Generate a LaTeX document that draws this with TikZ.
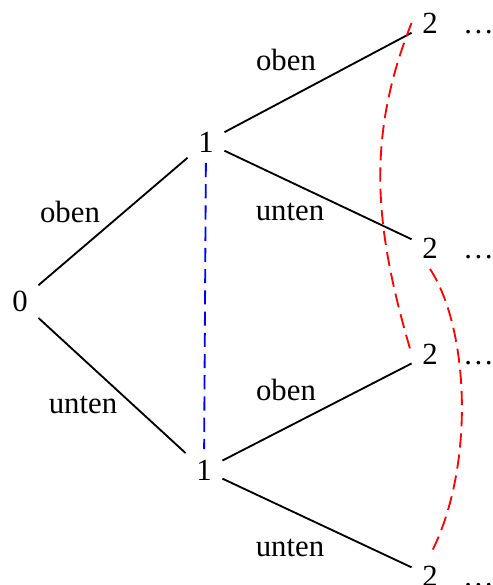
\documentclass[tikz,border=0pt]{standalone}
\usepackage{fontspec}
\setmainfont{Liberation Serif}
\begin{document}
\begin{tikzpicture}[x=0.325pt,y=-0.325pt,
  every node/.style={font=\fontsize{10}{12}\selectfont},
  state/.style={inner sep=3.3pt},
  edge/.style={line width=0.6pt,black},
  lbl/.style={inner sep=0pt},
  ellip/.style={anchor=base west,inner sep=0pt},
  sameval/.style={dash pattern=on 4.6pt off 2.3pt,line width=0.6pt}]
\useasboundingbox (0,0) rectangle (492,585);
% states of the tree
\node[state] (s0) at (20,301) {0};
\node[state] (u1) at (206,142) {1};
\node[state] (l1) at (204,470) {1};
\node[state] (a2) at (430,23) {2};
\node[state] (b2) at (430,248) {2};
\node[state] (c2) at (430,354) {2};
\node[state] (d2) at (430,576) {2};
% continuation dots
\foreach \n in {a2,b2,c2,d2}
  \node[ellip] (\n dots) at ([xshift=4.6pt]\n.base east) {\dots};
% branches
\draw[edge] (s0) -- (u1);
\draw[edge] (s0) -- (l1);
\draw[edge] (u1) -- (a2);
\draw[edge] (u1) -- (b2);
\draw[edge] (l1) -- (c2);
\draw[edge] (l1) -- (d2);
% branch labels
\node[lbl] (t1) at (70,212) {oben};
\node[lbl] (t2) at (83,405) {unten};
\node[lbl] (t3) at (286,60) {oben};
\node[lbl] (t4) at (290,212) {unten};
\node[lbl] (t5) at (286,390) {oben};
\node[lbl] (t6) at (290,548) {unten};
% equal states
\draw[sameval,blue] (u1) -- (l1);
\draw[sameval,red] (a2.west) .. controls (365,140) and (375,230) .. (c2.west);
\draw[sameval,red] (b2.south) .. controls (470,330) and (475,470) .. (d2.north);
\end{tikzpicture}
\end{document}
